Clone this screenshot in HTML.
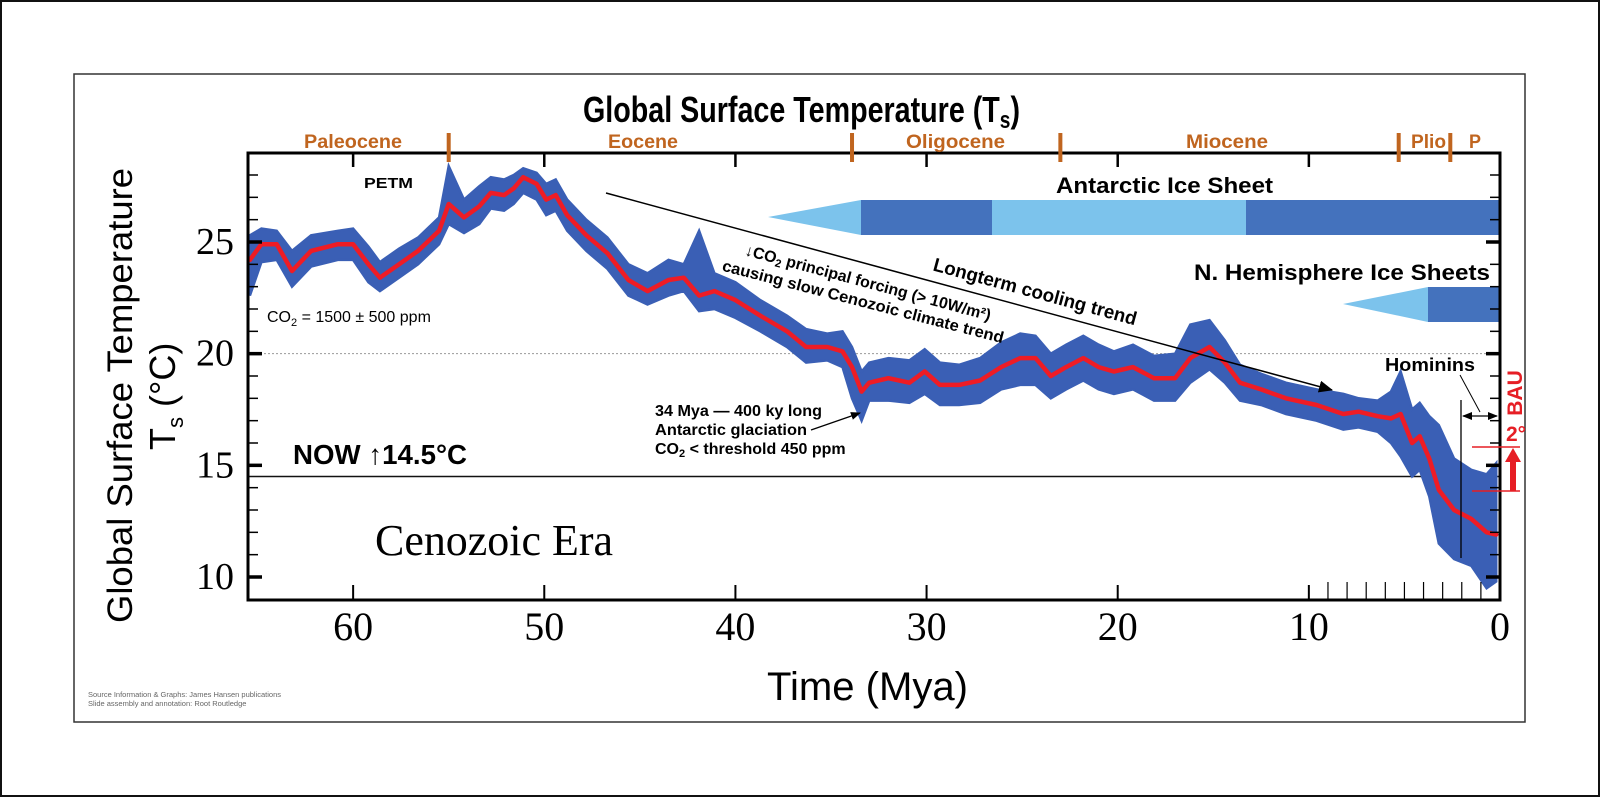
<!DOCTYPE html>
<html><head><meta charset="utf-8"><style>
html,body{margin:0;padding:0;background:#fff;}
svg{display:block;font-family:"Liberation Sans",sans-serif;}
</style></head><body>
<svg width="1600" height="797" viewBox="0 0 1600 797" xmlns="http://www.w3.org/2000/svg">
<rect x="1" y="1" width="1598" height="795" fill="#fff" stroke="#111" stroke-width="2"/>
<rect x="74" y="74" width="1451" height="648" fill="none" stroke="#333" stroke-width="1.5"/>
<text x="583" y="122" font-size="36" font-weight="bold" textLength="437" lengthAdjust="spacingAndGlyphs">Global Surface Temperature (T<tspan font-size="24" dy="6">s</tspan><tspan dy="-6">)</tspan></text>
<g id="plot"></g>
<g fill="#c0651f" font-weight="bold" font-size="19">
<text x="304" y="148" textLength="98" lengthAdjust="spacingAndGlyphs">Paleocene</text>
<text x="608" y="148" textLength="70" lengthAdjust="spacingAndGlyphs">Eocene</text>
<text x="906" y="148" textLength="99" lengthAdjust="spacingAndGlyphs">Oligocene</text>
<text x="1186" y="148" textLength="82" lengthAdjust="spacingAndGlyphs">Miocene</text>
<text x="1411" y="148" textLength="35" lengthAdjust="spacingAndGlyphs">Plio</text>
<text x="1469" y="148" textLength="12" lengthAdjust="spacingAndGlyphs">P</text>
</g>
<text x="132" y="623" font-size="35" transform="rotate(-90 132 623)" textLength="455" lengthAdjust="spacingAndGlyphs">Global Surface Temperature</text>
<text x="175" y="450" font-size="36" transform="rotate(-90 175 450)">T<tspan font-size="22" dy="8">s</tspan><tspan dy="-8"> (°C)</tspan></text>
<text x="767" y="700" font-size="40" textLength="201" lengthAdjust="spacingAndGlyphs">Time (Mya)</text>
<text x="88" y="697" font-size="7.5" fill="#666">Source Information &amp; Graphs: James Hansen publications</text>
<text x="88" y="706" font-size="7.5" fill="#666">Slide assembly and annotation: Root Routledge</text>
</svg>
<script>
const redAges=[65.4,64.8,64.0,63.2,62.2,60.8,60.0,59.2,58.6,57.6,
56.6,55.5,55.0,54.2,53.4,52.8,52.1,51.6,51.1,50.4,
49.9,49.4,48.8,47.8,46.7,45.6,44.6,43.5,42.7,41.9,
41.1,40.0,38.7,37.3,36.3,35.2,34.4,33.9,33.4,33.0,
32.0,30.9,30.1,29.3,28.3,27.2,26.1,25.1,24.3,23.5,
22.7,21.8,21.0,20.2,19.2,18.1,17.0,16.2,15.2,14.4,
13.6,12.5,11.2,9.6,8.2,7.4,6.4,5.7,5.2,4.6,
4.2,3.7,3.2,2.4,1.5,0.7,0.2];
const redTemps=[24.2,24.9,24.9,23.7,24.6,24.9,24.9,24.0,23.4,24.0,
24.6,25.5,26.7,26.1,26.6,27.2,27.1,27.4,27.9,27.6,
26.9,27.1,26.2,25.3,24.5,23.3,22.8,23.3,23.4,22.6,
22.8,22.4,21.7,21.0,20.3,20.3,20.1,19.4,18.3,18.7,
18.9,18.7,19.2,18.6,18.6,18.8,19.4,19.8,19.8,19.0,
19.4,19.8,19.4,19.2,19.4,18.9,18.9,19.8,20.3,19.6,
18.7,18.4,18.0,17.7,17.3,17.4,17.2,17.1,17.3,16.0,
16.3,15.3,13.9,13.0,12.6,12.0,11.9];
const blueHi=[25.3,25.6,25.5,24.6,25.3,25.5,25.6,24.8,24.1,24.7,
25.2,26.1,28.4,26.9,27.5,27.9,27.8,28.0,28.3,28.1,
27.6,27.8,26.9,26.0,25.2,24.0,23.6,24.2,24.0,25.5,
23.6,23.2,22.4,21.7,21.1,20.9,21.0,20.3,19.2,19.6,
19.8,19.7,20.2,19.6,19.5,19.8,20.5,20.9,20.8,20.0,
20.4,20.8,20.4,20.1,20.4,19.9,20.0,21.3,21.5,20.6,
19.5,19.1,18.7,18.4,18.2,18.0,17.9,18.3,19.2,17.5,
17.8,17.2,16.8,15.3,14.8,14.6,15.1];
const blueLo=[22.6,24.1,24.2,23.0,23.9,24.2,24.2,23.2,22.8,23.4,
24.0,24.9,25.8,25.4,25.8,26.5,26.4,26.7,27.2,26.9,
26.2,26.4,25.5,24.6,23.8,22.6,22.2,22.6,22.8,21.9,
22.0,21.6,21.0,20.3,19.6,19.7,19.4,18.0,17.0,17.9,
17.9,17.8,18.2,17.7,17.7,17.8,18.4,18.6,18.6,18.0,
18.4,18.8,18.4,18.2,18.4,17.9,17.9,18.7,19.3,18.7,
17.9,17.7,17.3,17.0,16.6,16.7,16.5,16.0,15.4,14.5,
14.8,13.6,11.5,10.8,10.5,9.5,9.8];
const xTicks=[60,50,40,30,20,10,0];
const xTickLabels=["60","50","40","30","20","10","0"];
const yTicks=[25,20,15,10];
const yTickLabels=["25","20","15","10"];
const epochBounds=[55.0,33.9,23.0,5.3,2.6];

const NS="http://www.w3.org/2000/svg";
const L=248,R=1500,T=153,B=600;
function x(m){return R-(m/65.5)*(R-L);}
function y(t){return 242+(25-t)*(335/15);}
const plot=document.getElementById('plot');
function mk(tag,attrs,parent){const e=document.createElementNS(NS,tag);for(const k in attrs)e.setAttribute(k,attrs[k]);(parent||plot).appendChild(e);return e;}

// ice sheets
let e;
e=mk('polygon',{points:`768,217 861,200 861,235`,fill:'#7cc3ec'});


e=mk('rect',{x:861,y:200,width:131,height:35,fill:'#4472bd'});


e=mk('rect',{x:992,y:200,width:254,height:35,fill:'#7cc3ec'});


e=mk('rect',{x:1246,y:200,width:254,height:35,fill:'#4472bd'});


e=mk('polygon',{points:`1343,304 1428,287 1428,322`,fill:'#7cc3ec'});


e=mk('rect',{x:1428,y:287,width:72,height:35,fill:'#4472bd'});



// reference lines
e=mk('line',{x1:L,x2:R,y1:y(20),y2:y(20),stroke:'#999','stroke-width':1,'stroke-dasharray':'2,2'});


e=mk('line',{x1:L,x2:R,y1:y(14.5),y2:y(14.5),stroke:'#111','stroke-width':1.5});



// blue band
let pts=[];
for(let i=0;i<redAges.length;i++)pts.push(x(redAges[i]).toFixed(1)+','+y(blueHi[i]).toFixed(1));
for(let i=redAges.length-1;i>=0;i--)pts.push(x(redAges[i]).toFixed(1)+','+y(blueLo[i]).toFixed(1));
e=mk('polygon',{points:pts.join(' '),fill:'#3a5fb5',stroke:'#3a5fb5','stroke-width':2.5,'stroke-linejoin':'miter'});


// red smoothed
let rp=redAges.map((a,i)=>x(a).toFixed(1)+','+y(redTemps[i]).toFixed(1)).join(' ');
e=mk('polyline',{points:rp,fill:'none',stroke:'#ee1c25','stroke-width':4.5,'stroke-linejoin':'round','stroke-linecap':'round'});



// axes frame
e=mk('rect',{x:L,y:T,width:R-L,height:B-T,fill:'none',stroke:'#000','stroke-width':3});


// y ticks
for(let t=10;t<=28;t++){
  const major=(t%5===0), len=major?14:10, w=major?3.5:1.5;
  e=mk('line',{x1:L,x2:L+len,y1:y(t),y2:y(t),stroke:'#000','stroke-width':w});
  
  
  e=mk('line',{x1:R,x2:R-len,y1:y(t),y2:y(t),stroke:'#000','stroke-width':w});
  
  
}
yTicks.forEach((t,i)=>{
  e=mk('text',{x:234,y:y(t)+12,'font-size':38,'font-family':'Liberation Serif, serif','text-anchor':'end'});
  e.textContent=yTickLabels[i];
  
  
});
xTicks.forEach((m,i)=>{
  if(m>0&&m<65){
    e=mk('line',{x1:x(m),x2:x(m),y1:B,y2:B-15,stroke:'#000','stroke-width':2});
    
    
    e=mk('line',{x1:x(m),x2:x(m),y1:T,y2:T+14,stroke:'#000','stroke-width':2.5});
    
    
  }
  e=mk('text',{x:x(m),y:640,'font-size':40,'font-family':'Liberation Serif, serif','text-anchor':'middle'});
  e.textContent=xTickLabels[i];
  
  
});
for(let m=1;m<10;m++){
  e=mk('line',{x1:x(m),x2:x(m),y1:B,y2:B-18,stroke:'#000','stroke-width':1.2});
  
  
}
epochBounds.forEach(m=>{
  e=mk('line',{x1:x(m),x2:x(m),y1:133,y2:162,stroke:'#c0651f','stroke-width':4});
  
  
});

// annotations
const defs=mk('defs',{});
const mkr=mk('marker',{id:'ah',markerWidth:10,markerHeight:8,refX:9,refY:4,orient:'auto',markerUnits:'userSpaceOnUse'},defs);
mk('path',{d:'M0,0 L10,4 L0,8 Z',fill:'#000'},mkr);
const mkr2=mk('marker',{id:'ahs',markerWidth:14,markerHeight:12,refX:13,refY:6,orient:'auto',markerUnits:'userSpaceOnUse'},defs);
mk('path',{d:'M0,0 L14,6 L0,12 Z',fill:'#000'},mkr2);
const mkr3=mk('marker',{id:'ahb',markerWidth:10,markerHeight:8,refX:1,refY:4,orient:'auto',markerUnits:'userSpaceOnUse'},defs);
mk('path',{d:'M10,0 L0,4 L10,8 Z',fill:'#000'},mkr3);

e=mk('line',{x1:606,y1:193,x2:1332,y2:390,stroke:'#000','stroke-width':1.5,'marker-end':'url(#ahs)'});


e=mk('line',{x1:811,y1:430,x2:860,y2:413,stroke:'#000','stroke-width':1.3,'marker-end':'url(#ah)'});


e=mk('line',{x1:1461,y1:400,x2:1461,y2:558,stroke:'#000','stroke-width':1.3});


e=mk('line',{x1:1463,y1:416,x2:1497,y2:416,stroke:'#000','stroke-width':1.3,'marker-start':'url(#ahb)','marker-end':'url(#ah)'});


e=mk('line',{x1:1460,y1:375,x2:1480,y2:412,stroke:'#000','stroke-width':1});


e=mk('line',{x1:1472,y1:447,x2:1520,y2:447,stroke:'#e61e25','stroke-width':1.5});


e=mk('line',{x1:1472,y1:491,x2:1520,y2:491,stroke:'#e61e25','stroke-width':1.5});


e=mk('polygon',{points:'1510,491 1510,462 1505,462 1513,448 1521,462 1516,462 1516,491',fill:'#e61e25'});



function txt(attrs,content,name){
  const t=mk('text',attrs);t.textContent=content;
  
  
  return t;
}
txt({x:1056,y:193,'font-size':22,'font-weight':'bold',textLength:217,lengthAdjust:'spacingAndGlyphs'},'Antarctic Ice Sheet','antarctic-ice-label');
txt({x:1194,y:280,'font-size':22,'font-weight':'bold',textLength:296,lengthAdjust:'spacingAndGlyphs'},'N. Hemisphere Ice Sheets','nh-ice-label');
txt({x:1385,y:371,'font-size':18,'font-weight':'bold',textLength:90,lengthAdjust:'spacingAndGlyphs'},'Hominins','hominins-label');
txt({x:364,y:188,'font-size':15,'font-weight':'bold',textLength:49,lengthAdjust:'spacingAndGlyphs'},'PETM','petm-label');
txt({x:655,y:416,'font-size':16,'font-weight':'bold',textLength:167,lengthAdjust:'spacingAndGlyphs'},'34 Mya — 400 ky long','glaciation-note-1');
txt({x:655,y:435,'font-size':16,'font-weight':'bold',textLength:152,lengthAdjust:'spacingAndGlyphs'},'Antarctic glaciation','glaciation-note-2');
const g3=txt({x:655,y:454,'font-size':16,'font-weight':'bold'},'','glaciation-note-3');
g3.innerHTML='CO<tspan font-size="11" dy="3">2</tspan><tspan dy="-3"> &lt; threshold 450 ppm</tspan>';
txt({x:293,y:464,'font-size':28,'font-weight':'bold',textLength:174,lengthAdjust:'spacingAndGlyphs'},'NOW ↑14.5°C','now-label');
txt({x:375,y:555,'font-size':44,'font-family':'Liberation Serif, serif',textLength:238,lengthAdjust:'spacingAndGlyphs'},'Cenozoic Era','era-label');
const co=txt({x:267,y:322,'font-size':16},'','co2-label');
co.innerHTML='CO<tspan font-size="11" dy="4">2</tspan><tspan dy="-4"> = 1500 ± 500 ppm</tspan>';
txt({x:1035,y:298,'font-size':19,'font-weight':'bold','text-anchor':'middle',transform:'rotate(15.2 1035 292)',textLength:210,lengthAdjust:'spacingAndGlyphs'},'Longterm cooling trend','longterm-cooling-label');
const c1=txt({x:868,y:288,'font-size':16,'font-weight':'bold','text-anchor':'middle',transform:'rotate(15 868 283)'},'','co2-forcing-note-1');
c1.innerHTML='↓CO<tspan font-size="11" dy="3">2</tspan><tspan dy="-3"> principal forcing (&gt; 10W/m²)</tspan>';
txt({x:863,y:307,'font-size':16,'font-weight':'bold','text-anchor':'middle',transform:'rotate(14.5 863 302)',textLength:290,lengthAdjust:'spacingAndGlyphs'},'causing slow Cenozoic climate trend','co2-forcing-note-2');
txt({x:1522,y:393,'font-size':21,'font-weight':'bold',fill:'#e61e25','text-anchor':'middle',transform:'rotate(-90 1522 393)'},'BAU','bau-label');
txt({x:1506,y:441,'font-size':21,'font-weight':'bold',fill:'#e61e25'},'2°','two-degree-label');
</script>
</body></html>
